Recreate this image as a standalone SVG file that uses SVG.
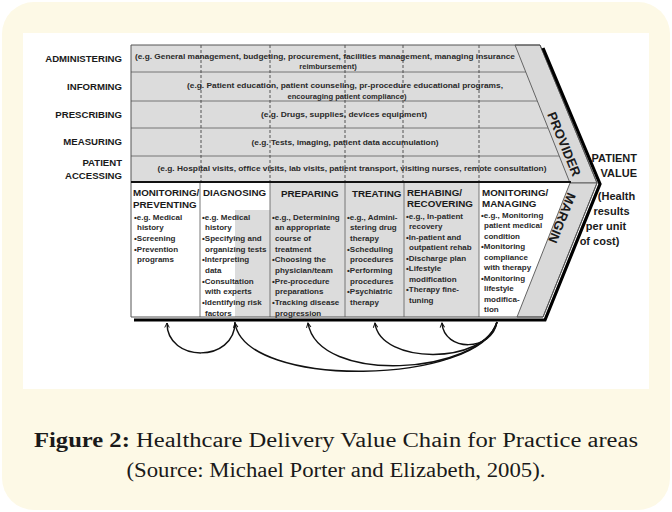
<svg xmlns="http://www.w3.org/2000/svg" width="672" height="512" viewBox="0 0 672 512">
  <defs>
    <style>
      .lbl { font-family: "Liberation Sans", Arial, sans-serif; font-weight: bold; font-size: 9.6px; fill: #1a1a1a; text-anchor: end; }
      .row { font-family: "Liberation Sans", Arial, sans-serif; font-weight: bold; font-size: 7.6px; fill: #2a2a2a; text-anchor: middle; }
      .hdr { font-family: "Liberation Sans", Arial, sans-serif; font-weight: bold; font-size: 9.8px; fill: #1a1a1a; }
      .bul { font-family: "Liberation Sans", Arial, sans-serif; font-weight: bold; font-size: 8px; fill: #2a2a2a; }
      .big { font-family: "Liberation Sans", Arial, sans-serif; font-weight: bold; font-size: 11px; fill: #1a1a1a; text-anchor: middle; }
      .wedge { font-family: "Liberation Sans", Arial, sans-serif; font-weight: bold; font-size: 13px; fill: #1a1a1a; text-anchor: middle; }
      .cap { font-family: "Liberation Serif", "Times New Roman", serif; font-size: 20px; fill: #1a1a1a; text-anchor: middle; }
      .grid { stroke: #6a6a6a; stroke-width: 0.9; fill: none; }
      .dash { stroke: #444; stroke-width: 0.9; stroke-dasharray: 3 2; fill: none; }
      .gray { fill: #dcdcdc; }
      .arc { fill: none; stroke: #111; stroke-width: 1.5; }
    </style>
    <marker id="tip" viewBox="0 0 8 8" refX="7" refY="4" markerWidth="6" markerHeight="6" orient="auto" markerUnits="userSpaceOnUse">
      <path d="M1,1 L7,4 L1,7" fill="none" stroke="#111" stroke-width="1.3"/>
    </marker>
  </defs>

  <!-- page background and white figure panel -->
  <rect x="2" y="2" width="668" height="508" rx="32" fill="#fdf9e6"/>
  <rect x="23" y="33" width="626" height="356" fill="#ffffff"/>

  <!-- chain body -->
  <g id="chain-body">
    <polygon points="131,45 515,45 570,182 131,182" class="gray"/>
    <polygon points="132,183 570,183 517,317 132,317" fill="#ffffff"/>
    <rect x="235" y="210" width="35" height="107" class="gray"/>
    <rect x="270" y="183" width="209" height="134" class="gray"/>
    <!-- row dividers of the support activities -->
    <line x1="131" y1="72" x2="525.8" y2="72" class="grid"/>
    <line x1="131" y1="101" x2="537.5" y2="101" class="grid"/>
    <line x1="131" y1="128" x2="548.3" y2="128" class="grid"/>
    <line x1="131" y1="156" x2="559.6" y2="156" class="grid"/>
    <!-- dashed column guides through the support rows -->
    <line x1="201" y1="45" x2="201" y2="182" class="dash"/>
    <line x1="270" y1="45" x2="270" y2="182" class="dash"/>
    <line x1="345" y1="45" x2="345" y2="182" class="dash"/>
    <line x1="403" y1="45" x2="403" y2="182" class="dash"/>
    <line x1="479" y1="45" x2="479" y2="182" class="dash"/>
    <!-- primary column dividers -->
    <line x1="200" y1="183" x2="200" y2="317" class="grid"/>
    <line x1="270" y1="183" x2="270" y2="317" class="grid"/>
    <line x1="345" y1="183" x2="345" y2="317" class="grid"/>
    <line x1="404" y1="183" x2="404" y2="317" class="grid"/>
    <line x1="479" y1="183" x2="479" y2="317" class="grid"/>
    <!-- provider and margin wedges -->
    <polygon id="provider-wedge" points="515,45 540,45 597,183 570,183" fill="#d9d9d9" stroke="#555" stroke-width="0.9"/>
    <polygon id="margin-wedge" points="570,183 597,183 543,317 517,317" fill="#d9d9d9" stroke="#555" stroke-width="0.9"/>
    <!-- outline, heavy separator and shadow -->
    <polygon points="131,45 540,45 597,183 543,317 131,317" fill="none" stroke="#555" stroke-width="1"/>
    <line x1="131" y1="182" x2="571" y2="182" stroke="#111" stroke-width="2.2"/>
    <polyline points="134,320 545,320 600,184 543,48" fill="none" stroke="#000" stroke-width="3.2" stroke-linejoin="miter"/>
  </g>

  <!-- support activities -->
  <g id="administering">
    <text x="122" y="61.5" class="lbl">ADMINISTERING</text>
    <text x="325" y="59" class="row" textLength="380" lengthAdjust="spacingAndGlyphs">(e.g. General management, budgeting, procurement, facilities management, managing insurance</text>
    <text x="328" y="69" class="row">reimbursement)</text>
  </g>
  <g id="informing">
    <text x="122" y="89.5" class="lbl">INFORMING</text>
    <text x="345" y="88" class="row" textLength="316" lengthAdjust="spacingAndGlyphs">(e.g. Patient education, patient counseling, pr-procedure educational programs,</text>
    <text x="347" y="99" class="row">encouraging patient compliance)</text>
  </g>
  <g id="prescribing">
    <text x="122" y="117.5" class="lbl">PRESCRIBING</text>
    <text x="344" y="117" class="row" textLength="166" lengthAdjust="spacingAndGlyphs">(e.g. Drugs, supplies, devices equipment)</text>
  </g>
  <g id="measuring">
    <text x="122" y="144.5" class="lbl">MEASURING</text>
    <text x="345" y="145" class="row" textLength="187" lengthAdjust="spacingAndGlyphs">(e.g. Tests, imaging, patient data accumulation)</text>
  </g>
  <g id="patient-accessing">
    <text x="122" y="165.5" class="lbl">PATIENT</text>
    <text x="122" y="178.5" class="lbl">ACCESSING</text>
    <text x="352" y="171" class="row" textLength="389" lengthAdjust="spacingAndGlyphs">(e.g. Hospital visits, office visits, lab visits, patient transport, visiting nurses, remote consultation)</text>
  </g>

  <!-- primary activities -->
  <g id="monitoring-preventing">
    <text x="133" y="195.5" class="hdr">MONITORING/</text>
    <text x="133" y="207.5" class="hdr">PREVENTING</text>
    <text class="bul">
      <tspan x="134" y="219.7">•e.g. Medical</tspan>
      <tspan x="137" y="230.3">history</tspan>
      <tspan x="134" y="241">•Screening</tspan>
      <tspan x="134" y="251.6">•Prevention</tspan>
      <tspan x="137" y="262.3">programs</tspan>
    </text>
  </g>
  <g id="diagnosing">
    <text x="203" y="195.5" class="hdr">DIAGNOSING</text>
    <text class="bul">
      <tspan x="202" y="219.7">•e.g. Medical</tspan>
      <tspan x="205" y="230.3">history</tspan>
      <tspan x="202" y="241">•Specifying and</tspan>
      <tspan x="205" y="251.6">organizing tests</tspan>
      <tspan x="202" y="262.3">•Interpreting</tspan>
      <tspan x="205" y="272.9">data</tspan>
      <tspan x="202" y="283.6">•Consultation</tspan>
      <tspan x="205" y="294.2">with experts</tspan>
      <tspan x="202" y="304.9">•Identifying risk</tspan>
      <tspan x="205" y="315.5">factors</tspan>
    </text>
  </g>
  <g id="preparing">
    <text x="281" y="196.5" class="hdr">PREPARING</text>
    <text class="bul">
      <tspan x="272" y="219.7">•e.g., Determining</tspan>
      <tspan x="275" y="230.3">an appropriate</tspan>
      <tspan x="275" y="241">course of</tspan>
      <tspan x="275" y="251.6">treatment</tspan>
      <tspan x="272" y="262.3">•Choosing the</tspan>
      <tspan x="275" y="272.9">physician/team</tspan>
      <tspan x="272" y="283.6">•Pre-procedure</tspan>
      <tspan x="275" y="294.2">preparations</tspan>
      <tspan x="272" y="304.9">•Tracking disease</tspan>
      <tspan x="275" y="315.5">progression</tspan>
    </text>
  </g>
  <g id="treating">
    <text x="352" y="197" class="hdr">TREATING</text>
    <text class="bul">
      <tspan x="347" y="219.7">•e.g., Admini-</tspan>
      <tspan x="350" y="230.3">stering drug</tspan>
      <tspan x="350" y="241">therapy</tspan>
      <tspan x="347" y="251.6">•Scheduling</tspan>
      <tspan x="350" y="262.3">procedures</tspan>
      <tspan x="347" y="272.9">•Performing</tspan>
      <tspan x="350" y="283.6">procedures</tspan>
      <tspan x="347" y="294.2">•Psychiatric</tspan>
      <tspan x="350" y="304.9">therapy</tspan>
    </text>
  </g>
  <g id="rehabing-recovering">
    <text x="407" y="195.5" class="hdr">REHABING/</text>
    <text x="407" y="207" class="hdr">RECOVERING</text>
    <text class="bul">
      <tspan x="406" y="218.5">•e.g., In-patient</tspan>
      <tspan x="409" y="229">recovery</tspan>
      <tspan x="406" y="239.5">•In-patient and</tspan>
      <tspan x="409" y="250">outpatient rehab</tspan>
      <tspan x="406" y="260.5">•Discharge plan</tspan>
      <tspan x="406" y="271">•Lifestyle</tspan>
      <tspan x="409" y="281.5">modification</tspan>
      <tspan x="406" y="292">•Therapy fine-</tspan>
      <tspan x="409" y="302.5">tuning</tspan>
    </text>
  </g>
  <g id="monitoring-managing">
    <text x="482" y="195.5" class="hdr">MONITORING/</text>
    <text x="482" y="207" class="hdr">MANAGING</text>
    <text class="bul">
      <tspan x="481" y="217.5">•e.g., Monitoring</tspan>
      <tspan x="484" y="228">patient medical</tspan>
      <tspan x="484" y="238.5">condition</tspan>
      <tspan x="481" y="249">•Monitoring</tspan>
      <tspan x="484" y="259.5">compliance</tspan>
      <tspan x="484" y="270">with therapy</tspan>
      <tspan x="481" y="280.5">•Monitoring</tspan>
      <tspan x="484" y="291">lifestyle</tspan>
      <tspan x="484" y="301.5">modifica-</tspan>
      <tspan x="484" y="312">tion</tspan>
    </text>
  </g>

  <!-- wedge labels -->
  <g id="provider">
    <text class="wedge" transform="translate(564,144) rotate(67.6)" y="4.5">PROVIDER</text>
  </g>
  <g id="margin">
    <text class="wedge" transform="translate(562,218) rotate(112)" y="4.5">MARGIN</text>
  </g>

  <!-- outcome -->
  <g id="patient-value">
    <text x="637" y="162" class="big" style="text-anchor:end">PATIENT</text>
    <text x="637" y="177" class="big" style="text-anchor:end">VALUE</text>
    <text x="616.5" y="200" class="big">(Health</text>
    <text x="611.5" y="215" class="big">results</text>
    <text x="606" y="230" class="big">per unit</text>
    <text x="599.5" y="245" class="big">of cost)</text>
  </g>

  <!-- feedback loops between primary activities -->
  <g id="connectors">
    <path class="arc" d="M235,322 C235,363 167,363 167,323" marker-end="url(#tip)"/>
    <path class="arc" d="M497,322 C480,385 245,390 235,323" marker-end="url(#tip)"/>
    <path class="arc" d="M497,322 C480,375 318,385 308,323" marker-end="url(#tip)"/>
    <path class="arc" d="M497,322 C485,365 380,365 375,323" marker-end="url(#tip)"/>
    <path class="arc" d="M497,322 C492,352 444,352 442,323" marker-end="url(#tip)"/>
  </g>

  <!-- caption -->
  <g id="caption">
    <text x="336" y="447" class="cap" textLength="604" lengthAdjust="spacingAndGlyphs"><tspan font-weight="bold">Figure 2:</tspan> Healthcare Delivery Value Chain for Practice areas</text>
    <text x="336" y="477" class="cap" textLength="419" lengthAdjust="spacingAndGlyphs">(Source: Michael Porter and Elizabeth, 2005).</text>
  </g>
</svg>
